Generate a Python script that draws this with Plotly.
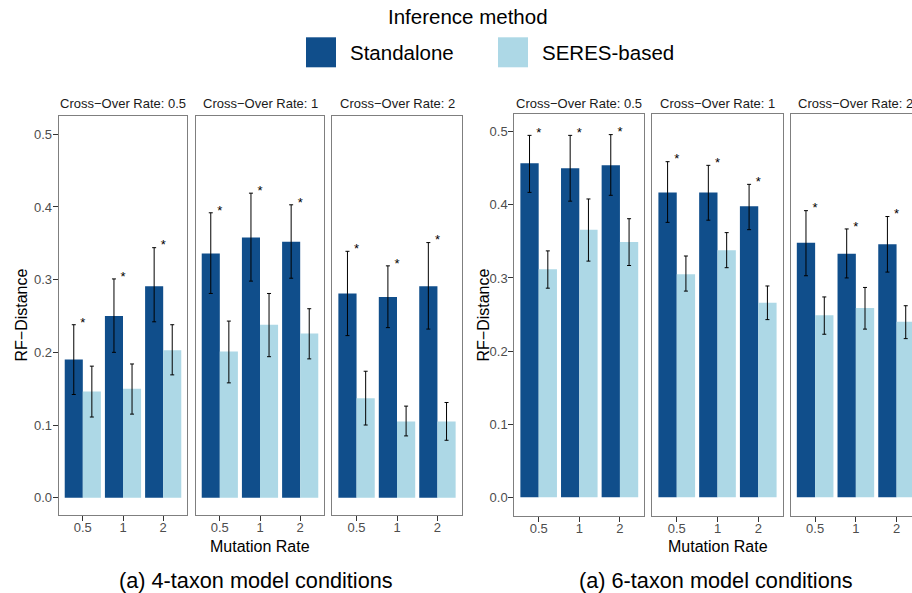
import plotly.graph_objects as go

# ---------------- data ----------------
mutation_rates = ["0.5", "1", "2"]
crossover_rates = ["0.5", "1", "2"]
methods = ["Standalone", "SERES-based"]
colors = ["#104E8B", "#ADD8E6"]
subtitles = ["(a) 4-taxon model conditions", "(a) 6-taxon model conditions"]

# rows = cross-over rate panels, columns = mutation rates
taxon4_standalone = [[0.190, 0.250, 0.291], [0.336, 0.358, 0.352], [0.281, 0.276, 0.291]]
taxon4_standalone_lo = [[0.142, 0.200, 0.242], [0.281, 0.298, 0.302], [0.223, 0.234, 0.232]]
taxon4_standalone_hi = [[0.238, 0.301, 0.344], [0.392, 0.419, 0.403], [0.339, 0.319, 0.351]]
taxon4_seres = [[0.146, 0.150, 0.203], [0.201, 0.238, 0.226], [0.137, 0.105, 0.105]]
taxon4_seres_lo = [[0.111, 0.115, 0.169], [0.158, 0.194, 0.191], [0.100, 0.085, 0.079]]
taxon4_seres_hi = [[0.181, 0.184, 0.238], [0.243, 0.281, 0.260], [0.174, 0.126, 0.131]]

taxon6_standalone = [[0.457, 0.450, 0.454], [0.417, 0.417, 0.398], [0.348, 0.333, 0.346]]
taxon6_standalone_lo = [[0.417, 0.405, 0.413], [0.376, 0.379, 0.366], [0.303, 0.300, 0.308]]
taxon6_standalone_hi = [[0.495, 0.495, 0.496], [0.459, 0.454, 0.428], [0.392, 0.367, 0.384]]
taxon6_seres = [[0.312, 0.366, 0.349], [0.305, 0.338, 0.266], [0.249, 0.259, 0.240]]
taxon6_seres_lo = [[0.286, 0.323, 0.317], [0.282, 0.314, 0.243], [0.223, 0.230, 0.217]]
taxon6_seres_hi = [[0.337, 0.408, 0.381], [0.330, 0.362, 0.289], [0.274, 0.287, 0.262]]

# significance markers on standalone bars
significant = [[True, True, True], [True, True, True], [True, True, True]]

yticks = [0.0, 0.1, 0.2, 0.3, 0.4, 0.5]
ytick_labels = ["0.0", "0.1", "0.2", "0.3", "0.4", "0.5"]

# ---------------- layout helpers ----------------
W, H = 912, 593
def px(x):
    return x / W
def py(y):
    return 1 - y / H

FONT = "Liberation Sans, Arial, Helvetica, sans-serif"
GREY_TXT = "#4d4d4d"
BORDER = "#7f7f7f"

groups = [
    dict(stand=taxon4_standalone, stand_lo=taxon4_standalone_lo, stand_hi=taxon4_standalone_hi,
         seres=taxon4_seres, seres_lo=taxon4_seres_lo, seres_hi=taxon4_seres_hi,
         panels=[(58.7, 187.3), (195.7, 324.3), (332.3, 461.7)],
         ydom=(515, 116), yzero=497.7, yhalf=134.3,
         ylabx=20.5, mutx=259.5, subx=255.5),
    dict(stand=taxon6_standalone, stand_lo=taxon6_standalone_lo, stand_hi=taxon6_standalone_hi,
         seres=taxon6_seres, seres_lo=taxon6_seres_lo, seres_hi=taxon6_seres_hi,
         panels=[(514.3, 644.3), (652.3, 782.7), (790.7, 921.0)],
         ydom=(516, 114.3), yzero=497.3, yhalf=131.7,
         ylabx=482.5, mutx=717.5, subx=715.5),
]

fig = go.Figure()
layout = dict(
    width=W, height=H, margin=dict(l=0, r=0, t=0, b=0),
    paper_bgcolor="white", plot_bgcolor="white",
    barmode="group", bargap=0.1, bargroupgap=0.0,
    showlegend=False, font=dict(family=FONT, color="black"),
)
annotations = []
shapes = []
xcat = [1, 2, 3]

k = 0
for gi, g in enumerate(groups):
    ybot, ytop = g["ydom"]
    per = (g["yzero"] - g["yhalf"]) / 0.5
    yr = [(g["yzero"] - ybot) / per, (g["yzero"] - ytop) / per]
    for pi in range(3):
        k += 1
        xn = "x" if k == 1 else f"x{k}"
        yn = "y" if k == 1 else f"y{k}"
        x0, x1 = g["panels"][pi]
        pw = (x1 - x0) / 3.2
        vis_x1 = min(x1, W)
        xr = [0.4, 0.4 + (vis_x1 - x0) / pw]
        truncated = x1 > W

        stand = g["stand"][pi]
        seres = g["seres"][pi]
        fig.add_trace(go.Bar(
            x=xcat, y=stand, name=methods[0], marker=dict(color=colors[0], line=dict(width=0)),
            error_y=dict(type="data", symmetric=False,
                         array=[h - v for h, v in zip(g["stand_hi"][pi], stand)],
                         arrayminus=[v - l for v, l in zip(stand, g["stand_lo"][pi])],
                         color="black", thickness=1, width=2),
            xaxis=xn, yaxis=yn, offsetgroup="a"))
        fig.add_trace(go.Bar(
            x=xcat, y=seres, name=methods[1], marker=dict(color=colors[1], line=dict(width=0)),
            error_y=dict(type="data", symmetric=False,
                         array=[h - v for h, v in zip(g["seres_hi"][pi], seres)],
                         arrayminus=[v - l for v, l in zip(seres, g["seres_lo"][pi])],
                         color="black", thickness=1, width=2),
            xaxis=xn, yaxis=yn, offsetgroup="b"))
        sx = [x for x, s in zip(xcat, significant[pi]) if s]
        sy = [h + 0.002 for h, s in zip(g["stand_hi"][pi], significant[pi]) if s]
        fig.add_trace(go.Scatter(
            x=sx, y=sy, mode="text", text=["*"] * len(sx),
            textfont=dict(size=13, color="black", family=FONT),
            textposition="middle center", xaxis=xn, yaxis=yn, hoverinfo="skip"))

        first = pi == 0
        layout["xaxis" if k == 1 else f"xaxis{k}"] = dict(
            domain=[px(x0), px(vis_x1)], range=xr, anchor=yn,
            tickmode="array", tickvals=xcat, ticktext=mutation_rates,
            ticks="outside", ticklen=5, tickwidth=1, tickcolor="#333333",
            ticklabelstandoff=-5,
            tickfont=dict(size=13, color=GREY_TXT, family=FONT),
            showline=True, linecolor=BORDER, linewidth=1, mirror=True,
            showgrid=False, zeroline=False, fixedrange=True)
        layout["yaxis" if k == 1 else f"yaxis{k}"] = dict(
            domain=[py(ybot), py(ytop)], range=yr, anchor=xn,
            tickmode="array", tickvals=yticks, ticktext=ytick_labels,
            ticks="outside" if first else "", ticklen=5, tickwidth=1, tickcolor="#333333",
            ticklabelstandoff=-2,
            showticklabels=first,
            tickfont=dict(size=13, color=GREY_TXT, family=FONT),
            showline=True, linecolor=BORDER, linewidth=1,
            mirror=False if truncated else True,
            showgrid=False, zeroline=False, fixedrange=True)

        annotations.append(dict(
            text="Cross\u2212Over Rate: " + crossover_rates[pi],
            x=px((x0 + x1) / 2), y=py(103.5), xref="paper", yref="paper",
            showarrow=False, xanchor="center", yanchor="middle",
            font=dict(size=13, color="#1a1a1a", family=FONT)))

    annotations.append(dict(
        text="RF\u2212Distance", x=px(g["ylabx"]), y=py(315), xref="paper", yref="paper",
        showarrow=False, textangle=-90, xanchor="center", yanchor="middle",
        font=dict(size=16, color="black", family=FONT)))
    annotations.append(dict(
        text="Mutation Rate", x=px(g["mutx"]), y=py(546), xref="paper", yref="paper",
        showarrow=False, xanchor="center", yanchor="middle",
        font=dict(size=16, color="black", family=FONT)))
    annotations.append(dict(
        text=subtitles[gi], x=px(g["subx"]), y=py(580.5), xref="paper", yref="paper",
        showarrow=False, xanchor="center", yanchor="middle",
        font=dict(size=21.7, color="black", family=FONT)))

# legend (drawn manually to match the large key boxes)
annotations.append(dict(
    text="Inference method", x=px(468), y=py(16.5), xref="paper", yref="paper",
    showarrow=False, xanchor="center", yanchor="middle",
    font=dict(size=20.5, color="black", family=FONT)))
legend_x = [306, 498]
for i, m in enumerate(methods):
    lx = legend_x[i]
    shapes.append(dict(type="rect", xref="paper", yref="paper",
                       x0=px(lx), x1=px(lx + 30), y0=py(67.3), y1=py(37.3),
                       fillcolor=colors[i], line=dict(width=0)))
    annotations.append(dict(
        text=m, x=px(lx + 42), y=py(52), xref="paper", yref="paper",
        showarrow=False, xanchor="left", yanchor="middle",
        font=dict(size=20.5, color="black", family=FONT)))

layout["annotations"] = annotations
layout["shapes"] = shapes
fig.update_layout(**layout)
fig.write_html("out.html", config={"displayModeBar": False},
               post_script="document.body.style.margin='0';document.body.style.overflow='hidden';")
